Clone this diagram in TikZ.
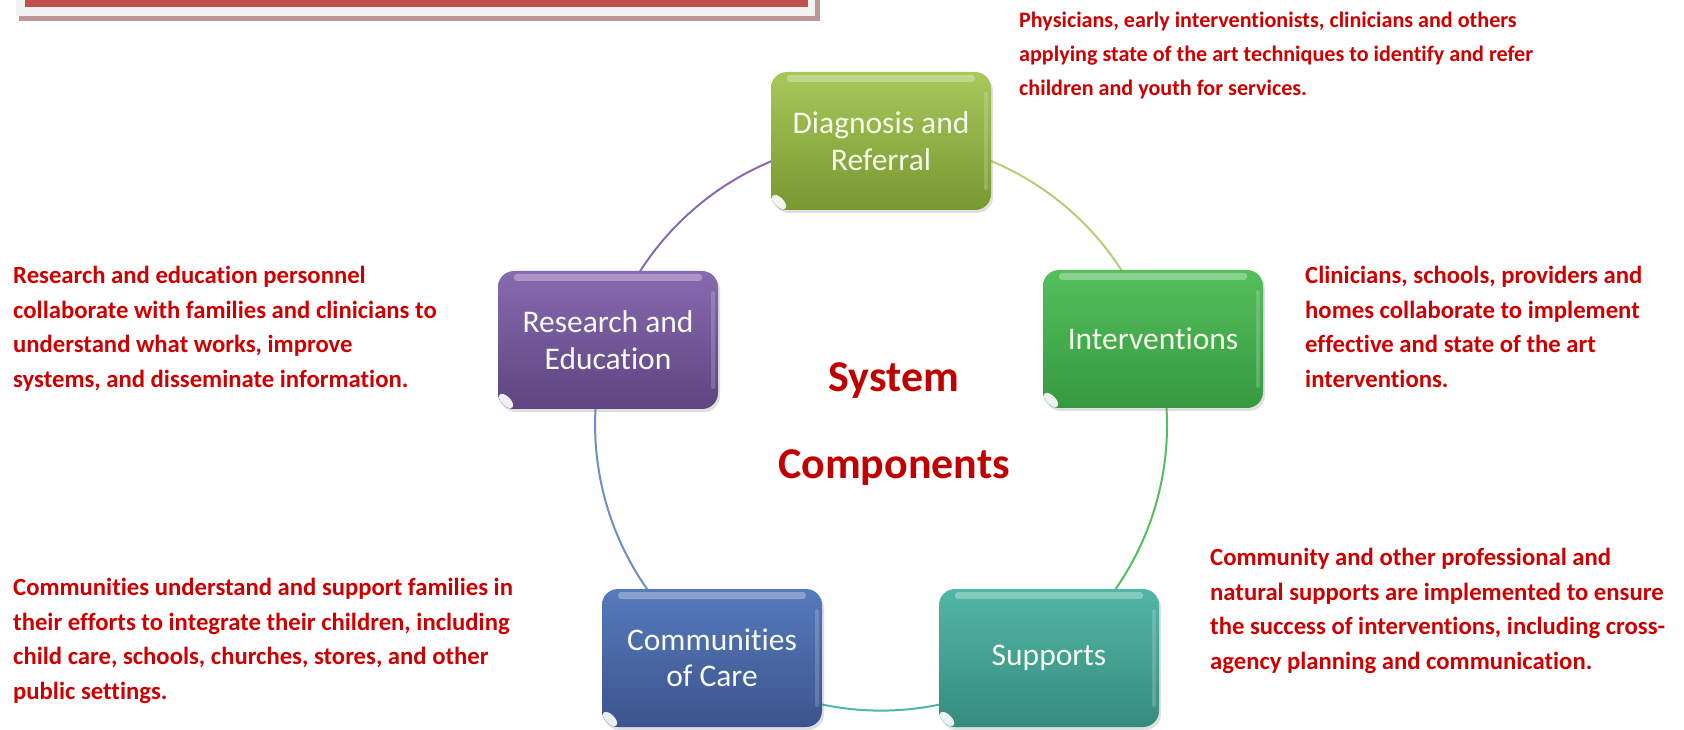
\documentclass[tikz,border=0pt]{standalone}
\usepackage{fontspec}
\setmainfont{Carlito}[Ligatures=NoCommon]
\usetikzlibrary{shadows}
\definecolor{txtred}{RGB}{204,0,0}
\definecolor{ctrred}{RGB}{192,0,0}
\definecolor{boxtxt}{RGB}{246,250,236}
\definecolor{dgTop}{RGB}{168,200,92}\definecolor{dgBot}{RGB}{120,152,48}
\definecolor{inTop}{RGB}{84,192,92}\definecolor{inBot}{RGB}{54,152,64}
\definecolor{reTop}{RGB}{136,106,176}\definecolor{reBot}{RGB}{94,68,128}
\definecolor{coTop}{RGB}{86,122,186}\definecolor{coBot}{RGB}{60,84,142}
\definecolor{suTop}{RGB}{82,182,166}\definecolor{suBot}{RGB}{54,140,124}
\definecolor{barred}{RGB}{192,80,77}
\definecolor{bargray}{RGB}{242,242,242}
\definecolor{barshadow}{RGB}{190,150,152}
\tikzset{
  compbox/.style n args={2}{rounded corners=16pt, minimum width=220pt, minimum height=138pt,
    inner sep=0pt, align=center, text=boxtxt, top color=#1, bottom color=#2,
    font=\fontsize{31.5}{36.5}\selectfont,
    drop shadow={opacity=0.25, shadow xshift=2pt, shadow yshift=-3pt},
    path picture={
      \fill[white,opacity=0.3, rounded corners=3pt] ([xshift=16pt,yshift=-3pt]path picture bounding box.north west)
         rectangle ([xshift=-16pt,yshift=-10pt]path picture bounding box.north east);
      \fill[white,opacity=0.18, rounded corners=2pt] ([xshift=-7pt,yshift=-20pt]path picture bounding box.north east)
         rectangle ([xshift=-3pt,yshift=20pt]path picture bounding box.south east);
      \fill[white,opacity=0.9] ([xshift=8pt,yshift=8pt]path picture bounding box.south west)
         ellipse [x radius=9pt, y radius=4.5pt, rotate=-45];
    }},
  desc/.style={anchor=north west, inner sep=0pt, align=left, text=txtred,
    font=\fontsize{24.7}{34.7}\selectfont\bfseries},
  descsmall/.style={desc, font=\fontsize{22.1}{33.8}\selectfont\bfseries},
  title/.style={text=ctrred, font=\fontsize{44}{52}\selectfont\bfseries},
  ring/.style={line width=2pt}
}
\begin{document}
\begin{tikzpicture}[x=1pt,y=1pt]
\useasboundingbox (0,0) rectangle (1684,729);
% top-left banner
\fill[barshadow] (19,708) rectangle (820,729);
\fill[bargray] (16,713) rectangle (815,729);
\fill[barred] (25,722) rectangle (808,729);
% points on the ring
\coordinate (pD) at (881,590);
\coordinate (pI) at (1153,392);
\coordinate (pS) at (1049,73);
\coordinate (pC) at (713,73);
\coordinate (pR) at (609,392);
\draw[ring, color=dgTop!85!white] (pD) arc[start angle=90, end angle=18, radius=286];
\draw[ring, color=inTop] (pI) arc[start angle=18, end angle=-54, radius=286];
\draw[ring, color=suTop] (pS) arc[start angle=-54, end angle=-126, radius=286];
\draw[ring, color=coTop!85!white] (pC) arc[start angle=-126, end angle=-198, radius=286];
\draw[ring, color=reTop] (pR) arc[start angle=162, end angle=90, radius=286];
% boxes
\node[compbox={dgTop}{dgBot}] (diag) at (881,588) {Diagnosis and\\Referral};
\node[compbox={inTop}{inBot}] (interv) at (1153,390) {Interventions};
\node[compbox={reTop}{reBot}] (research) at (608,389) {Research and\\Education};
\node[compbox={coTop}{coBot}] (comm) at (712,71) {Communities\\of Care};
\node[compbox={suTop}{suBot}] (supp) at (1049,71) {Supports};
% centre title
\node[title] (t1) at (894,348) {System};
\node[title] (t2) at (894,261) {Components};
% descriptions
\node[descsmall] (dDiag) at (1019,717) {Physicians, early interventionists, clinicians and others\\applying state of the art techniques to identify and refer\\children and youth for services.};
\node[desc] (dRes) at (13,463) {Research and education personnel\\collaborate with families and clinicians to\\understand what works, improve\\systems, and disseminate information.};
\node[desc] (dInt) at (1305,463) {Clinicians, schools, providers and\\homes collaborate to implement\\effective and state of the art\\interventions.};
\node[desc] (dCom) at (13,151) {Communities understand and support families in\\their efforts to integrate their children, including\\child care, schools, churches, stores, and other\\public settings.};
\node[desc] (dSup) at (1210,181) {Community and other professional and\\natural supports are implemented to ensure\\the success of interventions, including cross-\\agency planning and communication.};
\end{tikzpicture}
\end{document}
